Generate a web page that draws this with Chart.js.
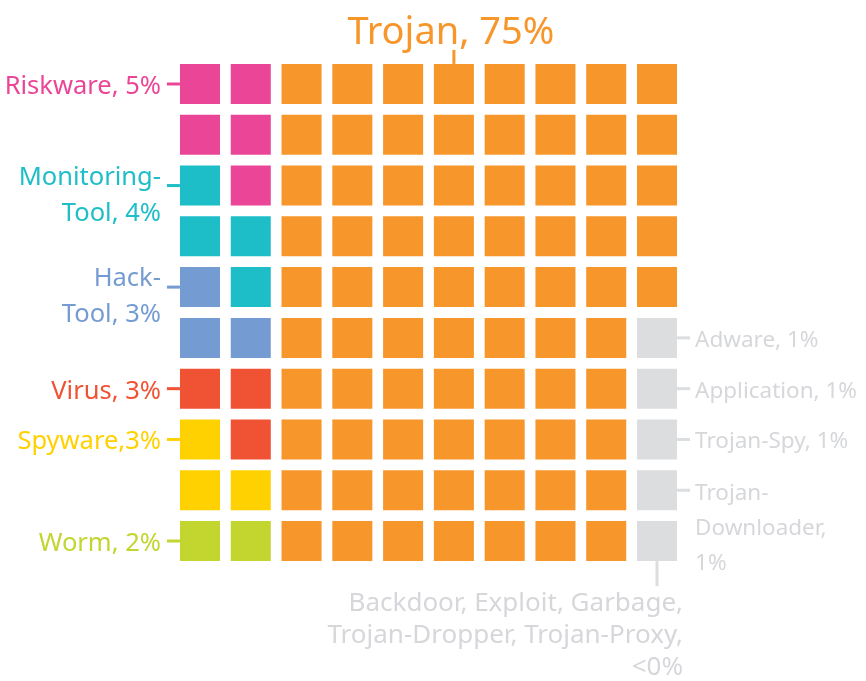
<!DOCTYPE html>
<html>
<head>
<meta charset="utf-8">
<script src="https://cdn.jsdelivr.net/npm/chart.js@4.4.1/dist/chart.umd.min.js"></script>
<style>
    html, body { margin: 0; padding: 0; background: #fff; }
    #wrap { width: 866px; height: 681px; }
</style>
</head>
<body>
<div id="wrap"><canvas id="waffle"></canvas></div>
<script>
// Waffle de tipos de malware: rejilla de 10 x 10, cada celda vale 1 %.

var categories = ['Worm', 'Spyware', 'Virus', 'Hack-Tool', 'Monitoring-Tool', 'Riskware',
    'Other', 'Trojan-Downloader', 'Trojan-Spy', 'Application', 'Adware', 'Trojan'];
var cells = [2, 3, 3, 3, 4, 5, 1, 1, 1, 1, 1, 75];
var groups = ['left', 'left', 'left', 'left', 'left', 'left',
    'bottom', 'right', 'right', 'right', 'right', 'top'];
var labelTexts = [
    ['Worm, 2%'], ['Spyware,3%'], ['Virus, 3%'], ['Hack-', 'Tool, 3%'],
    ['Monitoring-', 'Tool, 4%'], ['Riskware, 5%'],
    ['Backdoor, Exploit, Garbage,', 'Trojan-Dropper, Trojan-Proxy,', '<0%'],
    ['Trojan-', 'Downloader,', '1%'], ['Trojan-Spy, 1%'], ['Application, 1%'],
    ['Adware, 1%'], ['Trojan, 75%']
];
var colors = ['#C2D62F', '#FFD100', '#F05234', '#759CD2', '#1DBEC8', '#EB4598',
    '#DCDDDF', '#DCDDDF', '#DCDDDF', '#DCDDDF', '#DCDDDF', '#F7962B'];
var textGrey = '#D6D7DA';
var gridSize = 10;

// Reparte las celdas: bloque izquierdo de 2 columnas de abajo hacia arriba,
// la ultima columna de abajo hacia arriba y el resto para Trojan.
function buildCells() {
    var taken = {};
    var leftOrder = [];
    var rightOrder = [];
    for (var r = gridSize - 1; r >= 0; r--) {
        leftOrder.push([0, r]);
        leftOrder.push([1, r]);
        rightOrder.push([gridSize - 1, r]);
    }
    var li = 0, ri = 0;
    var points = [];
    for (var i = 0; i < categories.length; i++) {
        var pts = [];
        for (var k = 0; k < cells[i]; k++) {
            var cell = null;
            if (groups[i] == 'left') {
                cell = leftOrder[li++];
            } else if (groups[i] == 'right' || groups[i] == 'bottom') {
                cell = rightOrder[ri++];
            }
            if (cell) {
                taken[cell[0] + ',' + cell[1]] = true;
                pts.push({ x: cell[0], y: cell[1] });
            }
        }
        points.push(pts);
    }
    // Trojan ocupa lo que queda, por filas.
    var t = categories.indexOf('Trojan');
    for (var r = 0; r < gridSize; r++) {
        for (var c = 0; c < gridSize; c++) {
            if (!taken[c + ',' + r] && points[t].length < cells[t]) {
                points[t].push({ x: c, y: r });
            }
        }
    }
    return points;
}

var cellPoints = buildCells();

var datasets = [];
for (var i = 0; i < categories.length; i++) {
    datasets.push({
        label: categories[i],
        data: cellPoints[i],
        backgroundColor: colors[i],
        borderWidth: 0,
        pointStyle: 'rect',
        pointRadius: 28.3,
        pointHoverRadius: 28.3
    });
}

// Dibuja las etiquetas con sus lineas guia.
var labelPlugin = {
    id: 'waffleLabels',
    afterDatasetsDraw: function (chart) {
        var ctx = chart.ctx;
        var xs = chart.scales.x;
        var ys = chart.scales.y;
        var pitch = xs.getPixelForValue(1) - xs.getPixelForValue(0);
        var half = pitch * 0.79 / 2;
        ctx.save();
        ctx.lineWidth = 3;
        for (var i = 0; i < categories.length; i++) {
            var pts = cellPoints[i];
            var g = groups[i];
            var lines = labelTexts[i];
            var anchor;
            if (g == 'left') {
                anchor = null;
                pts.forEach(function (p) {
                    if (p.x == 0 && (!anchor || p.y < anchor.y)) anchor = p;
                });
            } else if (g == 'top') {
                var topRow = pts.filter(function (p) { return p.y == pts[0].y; });
                anchor = topRow[Math.floor((topRow.length - 1) / 2)];
            } else {
                anchor = pts[0];
            }
            var cx = xs.getPixelForValue(anchor.x);
            var cy = ys.getPixelForValue(anchor.y);
            var textColor = g == 'left' || g == 'top' ? colors[i] : textGrey;
            ctx.strokeStyle = colors[i];
            ctx.fillStyle = textColor;
            ctx.beginPath();
            if (g == 'left') {
                ctx.moveTo(cx - half - 13, cy);
                ctx.lineTo(cx - half, cy);
                ctx.stroke();
                ctx.font = '25.5px "Noto Sans"';
                ctx.textAlign = 'right';
                for (var j = 0; j < lines.length; j++) {
                    var by = lines.length == 1 ? cy + 10 : cy - 1 + j * 36;
                    ctx.fillText(lines[j], cx - half - 19, by);
                }
            } else if (g == 'right') {
                ctx.moveTo(cx + half, cy);
                ctx.lineTo(cx + half + 13, cy);
                ctx.stroke();
                ctx.font = '22.5px "Noto Sans"';
                ctx.textAlign = 'left';
                for (var j = 0; j < lines.length; j++) {
                    var by = lines.length == 1 ? cy + 9 : cy + 10 + j * 35;
                    ctx.fillText(lines[j], cx + half + 18, by);
                }
            } else if (g == 'bottom') {
                ctx.moveTo(cx, cy + half);
                ctx.lineTo(cx, cy + half + 25);
                ctx.stroke();
                ctx.font = '26px "Noto Sans"';
                ctx.textAlign = 'right';
                for (var j = 0; j < lines.length; j++) {
                    ctx.fillText(lines[j], cx + half + 6, cy + half + 50 + j * 32);
                }
            } else {
                ctx.moveTo(cx, cy - half - 14);
                ctx.lineTo(cx, cy - half);
                ctx.stroke();
                ctx.font = '38px "Noto Sans"';
                ctx.textAlign = 'center';
                ctx.fillText(lines[0], cx - 3, cy - half - 20);
            }
        }
        ctx.restore();
    }
};

var chart = new Chart(document.getElementById('waffle').getContext('2d'), {
    type: 'scatter',
    data: { datasets: datasets },
    options: {
        responsive: true,
        maintainAspectRatio: false,
        animation: false,
        layout: {
            padding: { left: 174.6, right: 183.6, top: 58.6, bottom: 114.6 }
        },
        scales: {
            x: { type: 'linear', min: -0.5, max: 9.5, display: false },
            y: { type: 'linear', min: -0.5, max: 9.5, reverse: true, display: false }
        },
        plugins: {
            legend: { display: false },
            tooltip: {
                callbacks: {
                    label: function (item) {
                        return item.dataset.label + ': ' + cells[item.datasetIndex] + '%';
                    }
                }
            }
        }
    },
    plugins: [labelPlugin]
});
</script>
</body>
</html>
